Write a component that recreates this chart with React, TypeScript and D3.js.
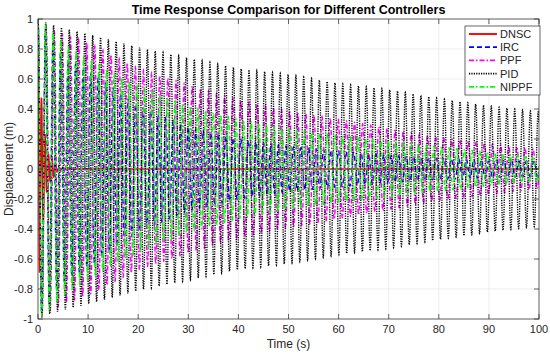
import React, { useEffect, useRef } from "react";
import * as d3 from "d3";

// envelope sample times (s) and peak amplitudes
const envTimes = [0, 2, 5, 10, 20, 30, 40, 50, 60, 70, 80, 90, 100];
const pidEnv = [1, 0.97, 0.94, 0.9, 0.81, 0.74, 0.67, 0.63, 0.57, 0.53, 0.47, 0.42, 0.38];
const ppfEnv = [1, 0.95, 0.9, 0.84, 0.67, 0.56, 0.46, 0.39, 0.33, 0.27, 0.21, 0.17, 0.13];
const nippfEnv = [1, 0.95, 0.85, 0.73, 0.55, 0.42, 0.33, 0.27, 0.22, 0.19, 0.15, 0.11, 0.08];
const ircEnv = [1, 0.9, 0.75, 0.65, 0.42, 0.28, 0.2, 0.15, 0.12, 0.09, 0.07, 0.06, 0.05];
const dnscTimes = [0, 0.5, 1, 1.5, 2, 3, 4, 5, 100];
const dnscEnv = [1, 0.55, 0.35, 0.2, 0.1, 0.06, 0.01, 0, 0];

// oscillation periods (s)
const periods = { DNSC: 0.7, IRC: 1.5, PPF: 1.62, PID: 1.56, NIPPF: 1.52 };

const xTicks = [0, 10, 20, 30, 40, 50, 60, 70, 80, 90, 100];
const yTicks = [-1, -0.8, -0.6, -0.4, -0.2, 0, 0.2, 0.4, 0.6, 0.8, 1];

const seriesDefs = [
  { name: "DNSC", times: dnscTimes, env: dnscEnv, color: "#ff0000", dash: "", width: 1.6 },
  { name: "IRC", times: envTimes, env: ircEnv, color: "#0000ff", dash: "5,3", width: 1.4 },
  { name: "PPF", times: envTimes, env: ppfEnv, color: "#ff00ff", dash: "5,2,1.5,2", width: 1.4 },
  { name: "PID", times: envTimes, env: pidEnv, color: "#000000", dash: "1.2,1.2", width: 1.4 },
  { name: "NIPPF", times: envTimes, env: nippfEnv, color: "#00ff00", dash: "5,2,1.5,2", width: 1.4 },
];

const W = 550;
const H = 354;
const M = { left: 38, right: 11, top: 19, bottom: 35 };

export default function App() {
  const ref = useRef<SVGSVGElement>(null);

  useEffect(() => {
    const svg = d3.select(ref.current);
    svg.selectAll("*").remove();

    const x = d3.scaleLinear().domain([0, 100]).range([M.left, W - M.right]);
    const y = d3.scaleLinear().domain([-1, 1]).range([H - M.bottom, M.top]);
    const font = "'Liberation Sans', Arial, sans-serif";
    const axisColor = "#262626";

    svg.append("rect").attr("width", W).attr("height", H).attr("fill", "#fff");

    // grid
    const grid = svg.append("g").attr("stroke", "#e6e6e6").attr("stroke-width", 0.7);
    xTicks.forEach((t) =>
      grid.append("line").attr("x1", x(t)).attr("x2", x(t)).attr("y1", y(-1)).attr("y2", y(1))
    );
    yTicks.forEach((t) =>
      grid.append("line").attr("x1", x(0)).attr("x2", x(100)).attr("y1", y(t)).attr("y2", y(t))
    );

    const clip = svg.append("defs").append("clipPath").attr("id", "plotclip");
    clip.append("rect").attr("x", x(0)).attr("y", y(1) - 1).attr("width", x(100) - x(0)).attr("height", y(-1) - y(1) + 2);

    const line = d3
      .line<[number, number]>()
      .x((d) => x(d[0]))
      .y((d) => y(d[1]));

    const lines = svg.append("g").attr("clip-path", "url(#plotclip)");
    seriesDefs.forEach((s) => {
      const envScale = d3.scaleLinear().domain(s.times).range(s.env);
      const period = periods[s.name as keyof typeof periods];
      const pts: [number, number][] = [];
      for (let t = 0; t <= 100; t += 0.02) {
        pts.push([t, envScale(t) * Math.cos((2 * Math.PI * t) / period)]);
      }
      lines
        .append("path")
        .attr("d", line(pts))
        .attr("fill", "none")
        .attr("stroke", s.color)
        .attr("stroke-width", s.width)
        .attr("stroke-dasharray", s.dash || null);
    });

    // axes box + ticks
    const ax = svg.append("g").attr("stroke", axisColor).attr("stroke-width", 0.7);
    ax.append("rect")
      .attr("x", x(0))
      .attr("y", y(1))
      .attr("width", x(100) - x(0))
      .attr("height", y(-1) - y(1))
      .attr("fill", "none");
    xTicks.forEach((t) => {
      ax.append("line").attr("x1", x(t)).attr("x2", x(t)).attr("y1", y(-1)).attr("y2", y(-1) - 5);
      ax.append("line").attr("x1", x(t)).attr("x2", x(t)).attr("y1", y(1)).attr("y2", y(1) + 5);
    });
    yTicks.forEach((t) => {
      ax.append("line").attr("x1", x(0)).attr("x2", x(0) + 5).attr("y1", y(t)).attr("y2", y(t));
      ax.append("line").attr("x1", x(100)).attr("x2", x(100) - 5).attr("y1", y(t)).attr("y2", y(t));
    });

    const labels = svg.append("g").attr("font-family", font).attr("fill", axisColor).attr("font-size", 11);
    xTicks.forEach((t) =>
      labels.append("text").attr("x", x(t)).attr("y", y(-1) + 14).attr("text-anchor", "middle").text(String(t))
    );
    yTicks.forEach((t) =>
      labels.append("text").attr("x", x(0) - 5).attr("y", y(t) + 4).attr("text-anchor", "end").text(String(t))
    );

    labels.append("text").attr("x", (x(0) + x(100)) / 2).attr("y", H - 6).attr("text-anchor", "middle").attr("font-size", 12).text("Time (s)");
    labels
      .append("text")
      .attr("transform", `translate(13,${(y(1) + y(-1)) / 2}) rotate(-90)`)
      .attr("text-anchor", "middle")
      .attr("font-size", 12)
      .text("Displacement (m)");

    svg.append("text")
      .attr("x", (x(0) + x(100)) / 2)
      .attr("y", 14)
      .attr("text-anchor", "middle")
      .attr("font-family", font)
      .attr("font-weight", "bold")
      .attr("font-size", 12.5)
      .attr("fill", "#000")
      .text("Time Response Comparison for Different Controllers");

    // legend
    const lg = svg.append("g").attr("transform", "translate(465,26)");
    lg.append("rect").attr("width", 75).attr("height", 69).attr("fill", "#fff").attr("stroke", axisColor).attr("stroke-width", 0.7);
    seriesDefs.forEach((s, i) => {
      const yy = 8 + i * 13.2;
      lg.append("line")
        .attr("x1", 4).attr("x2", 32).attr("y1", yy).attr("y2", yy)
        .attr("stroke", s.color).attr("stroke-width", s.width + 0.3)
        .attr("stroke-dasharray", s.dash || null);
      lg.append("text").attr("x", 35).attr("y", yy + 4).attr("font-family", font).attr("font-size", 11).attr("fill", axisColor).text(s.name);
    });
  }, []);

  return <svg ref={ref} width={W} height={H} style={{ display: "block", position: "absolute", left: 0, top: 0 }} />;
}
